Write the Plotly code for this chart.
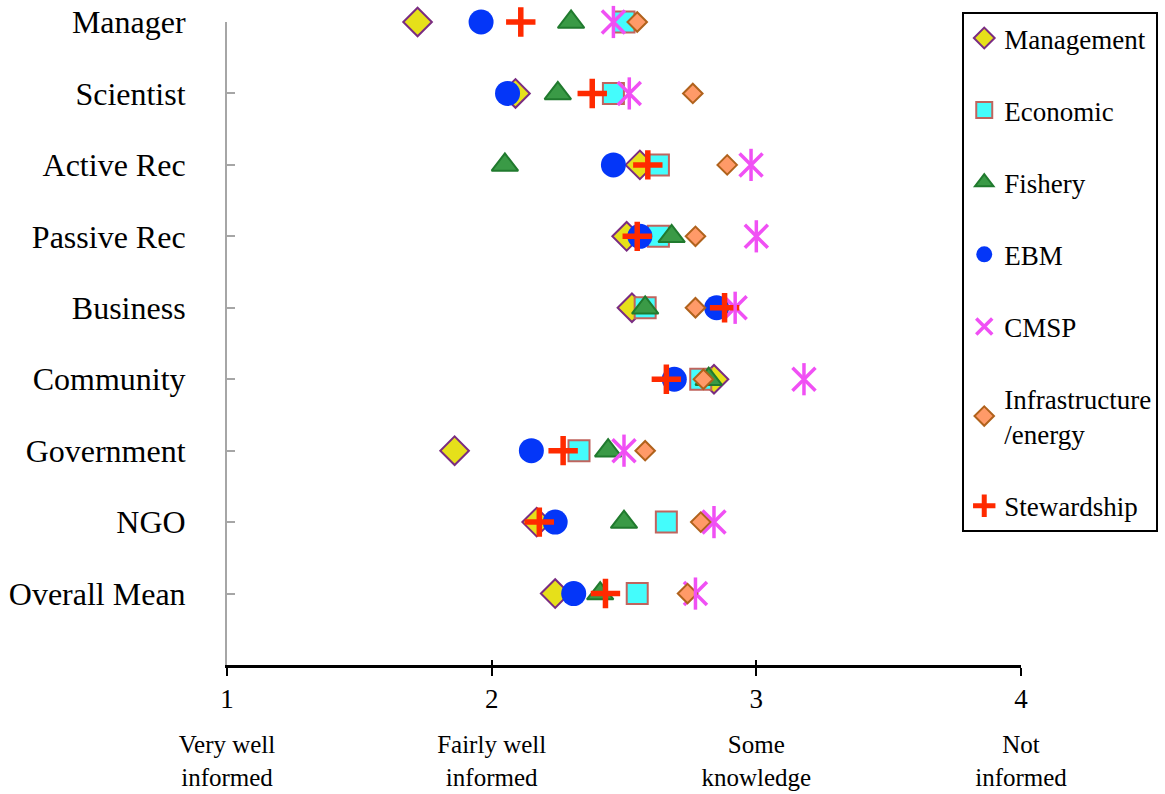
import plotly.graph_objects as go

categories = ["Manager", "Scientist", "Active Rec", "Passive Rec", "Business",
              "Community", "Government", "NGO", "Overall Mean"]

management = [1.72, 2.09, 2.56, 2.51, 2.53, 2.84, 1.86, 2.17, 2.24]
economic = [2.50, 2.46, 2.63, 2.63, 2.58, 2.79, 2.33, 2.66, 2.55]
fishery = [2.30, 2.25, 2.05, 2.68, 2.58, 2.82, 2.44, 2.50, 2.41]
ebm = [1.96, 2.06, 2.46, 2.56, 2.85, 2.69, 2.15, 2.24, 2.31]
cmsp = [2.46, 2.52, 2.98, 3.00, 2.92, 3.18, 2.50, 2.84, 2.77]
infrastructure = [2.55, 2.76, 2.89, 2.77, 2.77, 2.80, 2.58, 2.79, 2.74]
stewardship = [2.11, 2.38, 2.59, 2.55, 2.88, 2.66, 2.27, 2.18, 2.43]

scale_values = [1, 2, 3, 4]
scale_numbers = ["1", "2", "3", "4"]
scale_labels = ["Very well<br>informed", "Fairly well<br>informed",
                "Some<br>knowledge", "Not<br>informed"]

SERIF = "Liberation Serif, Times New Roman, serif"

fig = go.Figure()


def add(name, x, symbol, size, color, line_color=None, line_width=0,
        group=None, showlegend=True, xaxis="x"):
    fig.add_trace(go.Scatter(
        x=x, y=categories, mode="markers", name=name,
        legendgroup=group or name, showlegend=showlegend, xaxis=xaxis,
        cliponaxis=False,
        marker=dict(symbol=symbol, size=size, color=color,
                    line=dict(color=line_color or color, width=line_width)),
    ))


add("Management", management, "diamond", 22, "#E6E01A", "#7A2C82", 2)
add("Economic", economic, "square", 21, "#44FCFC", "#C0645E", 2)
add("Fishery", fishery, "triangle-up", 23, "#3A9A46", "#207A2E", 2)
add("EBM", ebm, "circle", 25, "#0436F8", "#0436F8", 0)
add("CMSP", cmsp, "x-thin", 23, "#F050F4", "#F050F4", 3.5, group="CMSP")
add("CMSP", cmsp, "line-ns", 23, "#F050F4", "#F050F4", 3.5, group="CMSP",
    showlegend=False, xaxis="x2")
add("Infrastructure<br>/energy", infrastructure, "diamond", 15, "#FF9A68", "#B0621C", 2)
add("Stewardship", stewardship, "cross-thin", 21, "#FF2A00", "#FF2A00", 5.5)

fig.update_layout(
    width=1165, height=794,
    margin=dict(l=227, r=144, t=22, b=129, autoexpand=False),
    paper_bgcolor="white", plot_bgcolor="white",
    font=dict(family=SERIF, color="black"),
    showlegend=True,
    legend=dict(
        x=0.926, y=1.0156, xanchor="left", yanchor="top",
        bordercolor="black", borderwidth=2, bgcolor="white",
        font=dict(family=SERIF, size=27, color="black"),
        traceorder="grouped", tracegroupgap=34, itemwidth=30,
        maxheight=700,
    ),
    xaxis=dict(
        range=[1, 4], tickvals=scale_values, ticktext=scale_numbers,
        showgrid=False, zeroline=False, automargin=False,
        showline=True, linecolor="black", linewidth=2.5,
        ticks="outside", ticklen=8, tickwidth=2, tickcolor="black",
        tickfont=dict(family=SERIF, size=27, color="black"),
        ticklabelstandoff=0,
    ),
    xaxis2=dict(
        range=[1, 4], overlaying="x", anchor="y", side="bottom",
        tickvals=scale_values, ticktext=scale_labels, automargin=False,
        showgrid=False, zeroline=False, showline=False,
        ticks="inside", ticklen=5, tickwidth=2, tickcolor="black",
        tickfont=dict(family=SERIF, size=25, color="black"),
        ticklabelstandoff=62,
    ),
    yaxis=dict(
        type="category", categoryorder="array",
        categoryarray=categories[::-1], range=[-1, 8],
        showgrid=False, zeroline=False, automargin=False,
        showline=True, linecolor="#A6A6A6", linewidth=2,
        ticks="inside", ticklen=8, tickwidth=1.5, tickcolor="#A6A6A6",
        tickfont=dict(family=SERIF, size=32, color="black"),
        ticklabelstandoff=33,
    ),
)

fig.write_html("out.html", config={"displayModeBar": False},
               post_script="document.body.style.margin='0';")
